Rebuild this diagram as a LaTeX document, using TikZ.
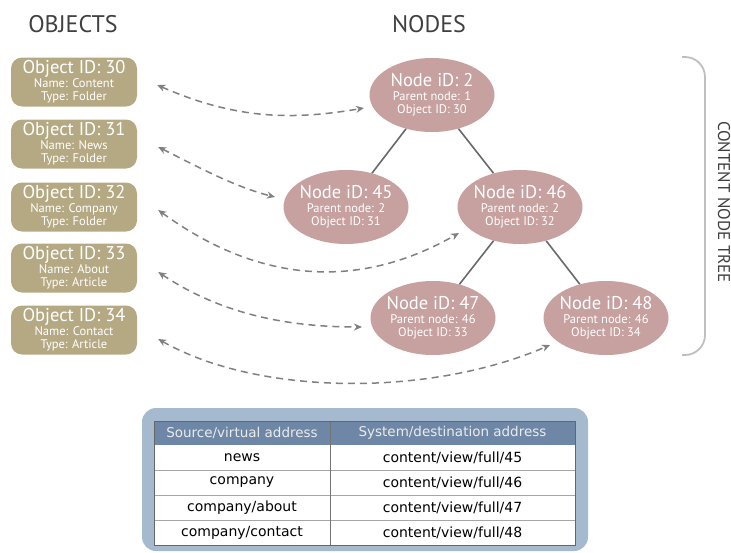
\documentclass[tikz,border=0pt]{standalone}
\usepackage{fontspec}
\setmainfont{PT Sans}
\newfontfamily\tabfont{DejaVu Sans}
\usetikzlibrary{calc,shapes.geometric,arrows.meta}

\definecolor{objtan}{RGB}{181,169,132}
\definecolor{noderose}{RGB}{199,160,160}
\definecolor{frameblue}{RGB}{166,186,207}
\definecolor{headblue}{RGB}{111,135,166}
\definecolor{linkgray}{RGB}{128,128,128}
\definecolor{treegray}{RGB}{105,105,105}

\newcommand{\bigline}[1]{{\fontsize{18.5}{13.5}\selectfont #1}}

\tikzset{
	object/.style={fill=objtan, rounded corners=11pt, minimum width=126pt, minimum height=49pt,
		inner sep=0pt, align=center, text=white, font=\fontsize{12.5}{13.5}\selectfont},
	treenode/.style={ellipse, fill=noderose, minimum width=125pt, minimum height=74pt,
		inner sep=-6pt, align=center, text=white, font=\fontsize{12.5}{13.5}\selectfont},
	link/.style={linkgray, line width=1.5pt, dash pattern=on 7pt off 5pt,
		{Stealth[length=8pt,width=7pt,inset=2.5pt]}-{Stealth[length=8pt,width=7pt,inset=2.5pt]}},
	edge/.style={treegray, line width=1.6pt},
	bracket/.style={black!25, line width=1.8pt, rounded corners=20pt},
	heading/.style={text=black!75, font=\fontsize{24}{24}\selectfont},
	headcell/.style={text=black!8, font=\tabfont\fontsize{13.5}{13.5}\selectfont},
	cell/.style={text=black, font=\tabfont\fontsize{14}{14}\selectfont}
}

\begin{document}
\begin{tikzpicture}[x=1pt, y=-1pt]
	%%%%% START %%%%%
	\useasboundingbox (0,0) rectangle (731,552);
	
	\node[heading] (objhead) at (73,24) {OBJECTS};
	\node[heading] (nodehead) at (429,24) {NODES};
	
	% objects
	\node[object] (o30) at (74,82) {\bigline{Object ID: 30}\\Name: Content\\Type: Folder};
	\node[object] (o31) at (74,144) {\bigline{Object ID: 31}\\Name: News\\Type: Folder};
	\node[object] (o32) at (74,207) {\bigline{Object ID: 32}\\Name: Company\\Type: Folder};
	\node[object] (o33) at (74,268) {\bigline{Object ID: 33}\\Name: About\\Type: Article};
	\node[object] (o34) at (74,330) {\bigline{Object ID: 34}\\Name: Contact\\Type: Article};
	
	% tree
	\node[treenode] (n2) at (432,95) {\bigline{Node iD: 2}\\Parent node: 1\\Object ID: 30};
	\node[treenode] (n45) at (346,207) {\bigline{Node iD: 45}\\Parent node: 2\\Object ID: 31};
	\node[treenode] (n46) at (520,207) {\bigline{Node iD: 46}\\Parent node: 2\\Object ID: 32};
	\node[treenode] (n47) at (433,318) {\bigline{Node iD: 47}\\Parent node: 46\\Object ID: 33};
	\node[treenode] (n48) at (606,318) {\bigline{Node iD: 48}\\Parent node: 46\\Object ID: 34};
	
	\draw[edge] (n2) -- (n45);
	\draw[edge] (n2) -- (n46);
	\draw[edge] (n46) -- (n47);
	\draw[edge] (n46) -- (n48);
	
	% object <-> node
	\draw[link] ($(o30.east)+(20,3)$) .. controls +(80,35) and +(-70,12) .. ($(n2.center)+(-68,13)$);
	\draw[link] ($(o31.east)+(21,3)$) .. controls +(40,20) and +(-40,-10) .. ($(n45.center)+(-71,-10)$);
	\draw[link] ($(o32.east)+(21,3)$) .. controls +(110,80) and +(-91,52) .. ($(n46.center)+(-61,26)$);
	\draw[link] ($(o33.east)+(21,4)$) .. controls +(60,40) and +(-80,0) .. ($(n47.center)+(-71,9)$);
	\draw[link] ($(o34.east)+(21,9)$) .. controls +(100,57) and +(-120,52) .. ($(n48.center)+(-56,27)$);
	
	% bracket
	\draw[bracket] (682,57) -- (705,57) -- (705,355) -- (682,355);
	\node[heading, rotate=-90, font=\fontsize{17}{17}\selectfont] (treelabel) at (724,202) {CONTENT NODE TREE};
	
	% address table
	\fill[frameblue, rounded corners=14pt] (142,408) rectangle (588,551);
	\fill[white] (154,445) rectangle (575,545);
	\fill[headblue] (154,421) rectangle (575,445);
	\draw[black!35, line width=0.8pt] (154,470) -- (575,470) (154,495) -- (575,495) (154,520) -- (575,520);
	\draw[black!55, line width=0.8pt] (330,421) -- (330,545);
	\draw[black!60, line width=1pt] (154,421) rectangle (575,545);
	
	\node[headcell] (hsrc) at (242,433) {Source/virtual address};
	\node[headcell] (hdst) at (452.5,433) {System/destination address};
	\foreach \src/\dst [count=\i] in {news/45, company/46, {company/about}/47, {company/contact}/48} {
		\node[cell] (src\i) at (242,432.5+25*\i) {\src};
		\node[cell] (dst\i) at (452.5,432.5+25*\i) {content/view/full/\dst};
	}
	
	%%%%% END %%%%%
\end{tikzpicture}
\end{document}
